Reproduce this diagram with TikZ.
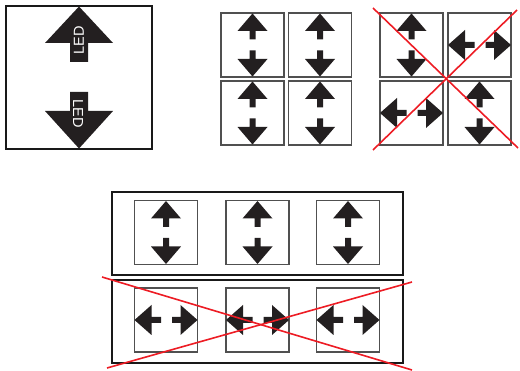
\documentclass[tikz,border=0pt]{standalone}
\usepackage{fontspec}
\setmainfont{Liberation Sans}
\definecolor{arrowfill}{RGB}{35,31,32}
\definecolor{crossred}{RGB}{237,28,36}
\definecolor{boxgray}{RGB}{80,80,80}
\tikzset{
  bigbox/.style={draw=black!90, line width=2.1pt, fill=none, inner sep=0pt},
  smallbox/.style={draw=boxgray, line width=1.1pt, minimum width=63pt, minimum height=64pt, inner sep=0pt},
  arrowshape/.style={fill=arrowfill, draw=none},
  crossline/.style={draw=crossred, line width=1.6pt},
  ledtext/.style={text=white, font=\fontsize{14.5}{15}\selectfont, inner sep=0pt},
  updown/.pic={
    \fill[arrowshape] (0,-31.5) -- (15,-14) -- (3,-14) -- (3,-5.5) -- (-3,-5.5) -- (-3,-14) -- (-15,-14) -- cycle;
    \fill[arrowshape] (0,31.5) -- (15,14) -- (3,14) -- (3,5.5) -- (-3,5.5) -- (-3,14) -- (-15,14) -- cycle;
  },
  leftright/.pic={
    \fill[arrowshape] (-31.5,0) -- (-14.5,-15) -- (-14.5,-3) -- (-5,-3) -- (-5,3) -- (-14.5,3) -- (-14.5,15) -- cycle;
    \fill[arrowshape] (31.5,0) -- (14.5,-15) -- (14.5,-3) -- (6,-3) -- (6,3) -- (14.5,3) -- (14.5,15) -- cycle;
  }
}
\begin{document}
\begin{tikzpicture}[x=1pt,y=-1pt]
\useasboundingbox (0,0) rectangle (520,371);

% LED box
\node[bigbox, minimum width=146pt, minimum height=143pt] (led) at (79,77.5) {};
\fill[arrowshape] (79,6.5) -- (113,43) -- (88,43) -- (88,62) -- (70,62) -- (70,43) -- (45,43) -- cycle;
\fill[arrowshape] (79,148.5) -- (113,111) -- (88,111) -- (88,92) -- (70,92) -- (70,111) -- (45,111) -- cycle;
\node[ledtext, rotate=90] (ledup) at (79,40.5) {LED};
\node[ledtext, rotate=-90] (leddown) at (78,114) {LED};

% good 2x2 grid
\node[smallbox] (ga) at (252.5,45) {};
\node[smallbox] (gb) at (320,45) {};
\node[smallbox] (gc) at (252.5,113) {};
\node[smallbox] (gd) at (320,113) {};
\pic at (ga.center) {updown};
\pic at (gb.center) {updown};
\pic at (gc.center) {updown};
\pic at (gd.center) {updown};

% bad 2x2 grid
\node[smallbox] (ba) at (411.5,45) {};
\node[smallbox] (bb) at (479.5,45) {};
\node[smallbox] (bc) at (411.5,113) {};
\node[smallbox] (bd) at (479.5,113) {};
\pic at (ba.center) {updown};
\pic at (bb.center) {leftright};
\pic at (bc.center) {leftright};
\pic at (bd.center) {updown};
\coordinate (x1a) at (373,8);
\coordinate (x1b) at (518,148);
\coordinate (x2a) at (373,150);
\coordinate (x2b) at (517,10);
\draw[crossline] (x1a) -- (x1b);
\draw[crossline] (x2a) -- (x2b);

% bottom rows
\node[bigbox, minimum width=291pt, minimum height=83pt] (rowtop) at (257.5,233.5) {};
\node[bigbox, minimum width=291pt, minimum height=83pt] (rowbot) at (257.5,321.5) {};
\node[smallbox] (ra) at (166,232.5) {};
\node[smallbox] (rb) at (257.5,232.5) {};
\node[smallbox] (rc) at (348,232.5) {};
\node[smallbox] (sa) at (166,320) {};
\node[smallbox] (sb) at (257.5,320) {};
\node[smallbox] (sc) at (348,320) {};
\pic at (ra.center) {updown};
\pic at (rb.center) {updown};
\pic at (rc.center) {updown};
\pic at (sa.center) {leftright};
\pic at (sb.center) {leftright};
\pic at (sc.center) {leftright};
\coordinate (y1a) at (102,277);
\coordinate (y1b) at (412,370);
\coordinate (y2a) at (107,368);
\coordinate (y2b) at (412,282);
\draw[crossline] (y1a) -- (y1b);
\draw[crossline] (y2a) -- (y2b);
\end{tikzpicture}
\end{document}
